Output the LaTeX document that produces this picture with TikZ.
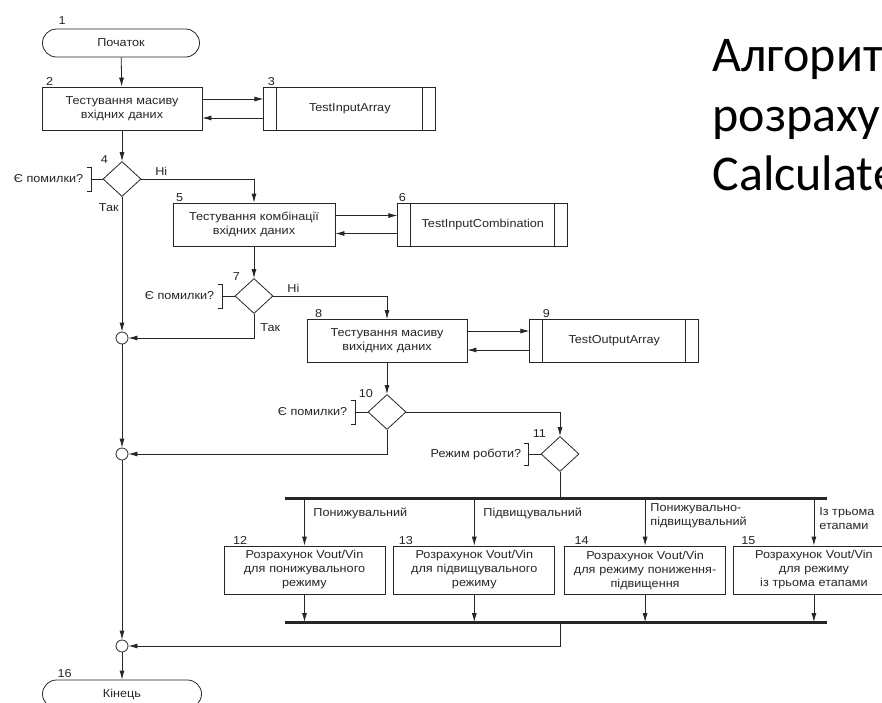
\documentclass[tikz,border=0pt]{standalone}
\usepackage{fontspec}
\setmainfont{Liberation Sans}[FakeStretch=1.1]
\newfontfamily\titlefont{Carlito}
\usetikzlibrary{shapes,arrows.meta,positioning}
\tikzstyle{block} = [rectangle, draw, text width=152pt, align=center, minimum width=160pt, minimum height=43pt, inner sep=0pt]
\tikzstyle{calc} = [block, text width=156pt, minimum width=161pt, minimum height=48pt]
\tikzstyle{subr} = [rectangle, draw, minimum width=170pt, minimum height=43pt,
  path picture={\draw ([xshift=13pt]path picture bounding box.north west) -- ([xshift=13pt]path picture bounding box.south west);
                \draw ([xshift=-13pt]path picture bounding box.north east) -- ([xshift=-13pt]path picture bounding box.south east);}]
\tikzstyle{term} = [rectangle, draw, rounded corners=14pt, minimum width=157pt, minimum height=28pt]
\tikzstyle{decision} = [diamond, draw, minimum width=38pt, minimum height=35pt, inner sep=0pt]
\tikzstyle{junction} = [circle, draw, minimum size=12pt, inner sep=0pt]
\tikzstyle{line} = [draw, -{Latex[length=9pt,width=5pt]}]
\tikzstyle{bus} = [draw, line width=3pt]
\tikzstyle{num} = [inner sep=1pt]
\tikzstyle{note} = [inner sep=0pt, align=left]
\tikzstyle{title} = [anchor=base west, inner sep=0pt, text=black, font=\titlefont\fontsize{50}{58}\selectfont]

\begin{document}
\begin{tikzpicture}[x=1pt, y=-1pt, line width=0.8pt, color=black!85, font=\fontsize{11.5}{14}\selectfont]
    \useasboundingbox (0,0) rectangle (882,702);
    \clip (0,0) rectangle (882,702);
    \fill[white] (0,0) rectangle (882,702);

    % title
    \node [title] (t1) at (712,71) {Алгорит};
    \node [title] (t2) at (712,131) {розраху};
    \node [title] (t3) at (712,190) {Calculate};

    % main column
    \node [term] (start) at (121,43) {Початок};
    \node [num, above right=3pt and 15pt of start.north west] (n1) {1};
    \node [block] (b2) at (122,108.5) {Тестування масиву\\вхідних даних};
    \node [num, above right=0pt and 3pt of b2.north west] (n2) {2};
    \node [subr, minimum width=172pt, right=61pt of b2] (b3) {TestInputArray};
    \node [num, above right=0pt and 3pt of b3.north west] (n3) {3};
    \node [decision] (d4) at (122,179) {};
    \node [num, anchor=south east] (n4) at ([xshift=-3pt,yshift=5pt]d4.north west) {4};

    \node [block, minimum width=162pt] (b5) at (254,224.5) {Тестування комбінації\\вхідних даних};
    \node [num, above right=0pt and 2pt of b5.north west] (n5) {5};
    \node [subr, right=62pt of b5] (b6) {TestInputCombination};
    \node [num, above right=0pt and 0pt of b6.north west] (n6) {6};
    \node [decision] (d7) at (254,296) {};
    \node [num, anchor=south east] (n7) at ([xshift=-3pt,yshift=5pt]d7.north west) {7};

    \node [block] (b8) at (387,341) {Тестування масиву\\вихідних даних};
    \node [num, above right=0pt and 7pt of b8.north west] (n8) {8};
    \node [subr, minimum width=169pt, right=62pt of b8] (b9) {TestOutputArray};
    \node [num, above right=0pt and 12pt of b9.north west] (n9) {9};
    \node [decision] (d10) at (387,412) {};
    \node [num, anchor=south east] (n10) at ([xshift=-3pt,yshift=4pt]d10.north west) {10};
    \node [decision] (d11) at (560,454) {};
    \node [num, anchor=south east] (n11) at ([xshift=-3pt,yshift=6pt]d11.north west) {11};

    \node [junction] (c1) at (122,338) {};
    \node [junction] (c2) at (122,454) {};
    \node [junction] (c3) at (122,646) {};
    \node [term, minimum width=159pt] (end) at (122,694) {Кінець};
    \node [num, above right=1pt and 14pt of end.north west] (n16) {16};

    % calculation boxes
    \node [calc] (b12) at (304.5,570) {Розрахунок Vout/Vin\\для понижувального\\режиму};
    \node [calc, right=8pt of b12] (b13) {Розрахунок Vout/Vin\\для підвищувального\\режиму};
    \node [calc, right=9pt of b13] (b14) {Розрахунок Vout/Vin\\для режиму пониження-\\підвищення};
    \node [calc, right=7pt of b14] (b15) {Розрахунок Vout/Vin\\для режиму\\із трьома етапами};
    \node [num, above right=0pt and 8pt of b12.north west] (n12) {12};
    \node [num, above right=0pt and 4pt of b13.north west] (n13) {13};
    \node [num, above right=0pt and 9pt of b14.north west] (n14) {14};
    \node [num, above right=0pt and 7pt of b15.north west] (n15) {15};
    \coordinate (bt1) at (285,498);
    \coordinate (bt2) at (827,498);
    \coordinate (bb1) at (285,622);
    \coordinate (bb2) at (827,622);
    \node [note, anchor=west] (l12) at (313,513) {Понижувальний};
    \node [note, anchor=west] (l13) at (483,513) {Підвищувальний};
    \node [note, anchor=west] (l14) at (650,516) {Понижувально-\\підвищувальний};
    \node [note, anchor=west] (l15) at (819,519) {Із трьома\\етапами};

    % questions
    \draw (d4.west) -- ++(-11,0) coordinate (k4);
    \draw ([shift={(-5,-12)}]k4) -- ++(5,0) -- ++(0,24) -- ++(-5,0);
    \node [note, anchor=east] (q4) at ([xshift=-8pt]k4) {Є помилки?};
    \draw (d7.west) -- ++(-12,0) coordinate (k7);
    \draw ([shift={(-5,-12)}]k7) -- ++(5,0) -- ++(0,24) -- ++(-5,0);
    \node [note, anchor=east] (q7) at ([xshift=-8pt]k7) {Є помилки?};
    \draw (d10.west) -- ++(-12,0) coordinate (k10);
    \draw ([shift={(-5,-12)}]k10) -- ++(5,0) -- ++(0,24) -- ++(-5,0);
    \node [note, anchor=east] (q10) at ([xshift=-8pt]k10) {Є помилки?};
    \draw (d11.west) -- ++(-12,0) coordinate (k11);
    \draw ([shift={(-5,-11)}]k11) -- ++(5,0) -- ++(0,22) -- ++(-5,0);
    \node [note, anchor=east] (q11) at ([xshift=-7pt]k11) {Режим роботи?};

    % connectors
    \path [line] (start) -- (b2);
    \path [line] ([yshift=9.5pt]b2.east) -- ([yshift=9.5pt]b3.west);
    \path [line] ([yshift=-9.5pt]b3.west) -- ([yshift=-9.5pt]b2.east);
    \path [line] (b2) -- (d4);
    \path [line] (d4.east) -| node [note, pos=0.06, anchor=south west, yshift=3pt] {Ні} (b5.north);
    \path [line] (d4.south) -- node [note, pos=0.05, anchor=north east, xshift=-3pt] {Так} (c1);
    \path [line] ([yshift=9pt]b5.east) -- ([yshift=9pt]b6.west);
    \path [line] ([yshift=-9pt]b6.west) -- ([yshift=-9pt]b5.east);
    \path [line] (b5) -- (d7);
    \path [line] (d7.east) -| node [note, pos=0.06, anchor=south west, yshift=3pt] {Ні} (b8.north);
    \path [line] (d7.south) |- node [note, pos=0.2, anchor=north west, xshift=6pt] {Так} (c1);
    \path [line] ([yshift=10pt]b8.east) -- ([yshift=10pt]b9.west);
    \path [line] ([yshift=-9pt]b9.west) -- ([yshift=-9pt]b8.east);
    \path [line] (b8) -- (d10);
    \path [line] (d10.east) -| (d11.north);
    \path [line] (d10.south) |- (c2);
    \path [line] (c1) -- (c2);
    \path [line] (c2) -- (c3);
    \path [line] (c3) -- (end);
    \draw (d11.south) -- (d11.south |- bt1);
    \path [bus] (bt1) -- (bt2);
    \path [bus] (bb1) -- (bb2);
    \path [line] (b12.north |- bt1) -- (b12.north);
    \path [line] (b13.north |- bt1) -- (b13.north);
    \path [line] (b14.north |- bt1) -- (b14.north);
    \path [line] (b15.north |- bt1) -- (b15.north);
    \path [line] (b12.south) -- (b12.south |- bb1);
    \path [line] (b13.south) -- (b13.south |- bb1);
    \path [line] (b14.south) -- (b14.south |- bb1);
    \path [line] (b15.south) -- (b15.south |- bb1);
    \path [line] (d11.south |- bb1) |- (c3);
\end{tikzpicture}
\end{document}
